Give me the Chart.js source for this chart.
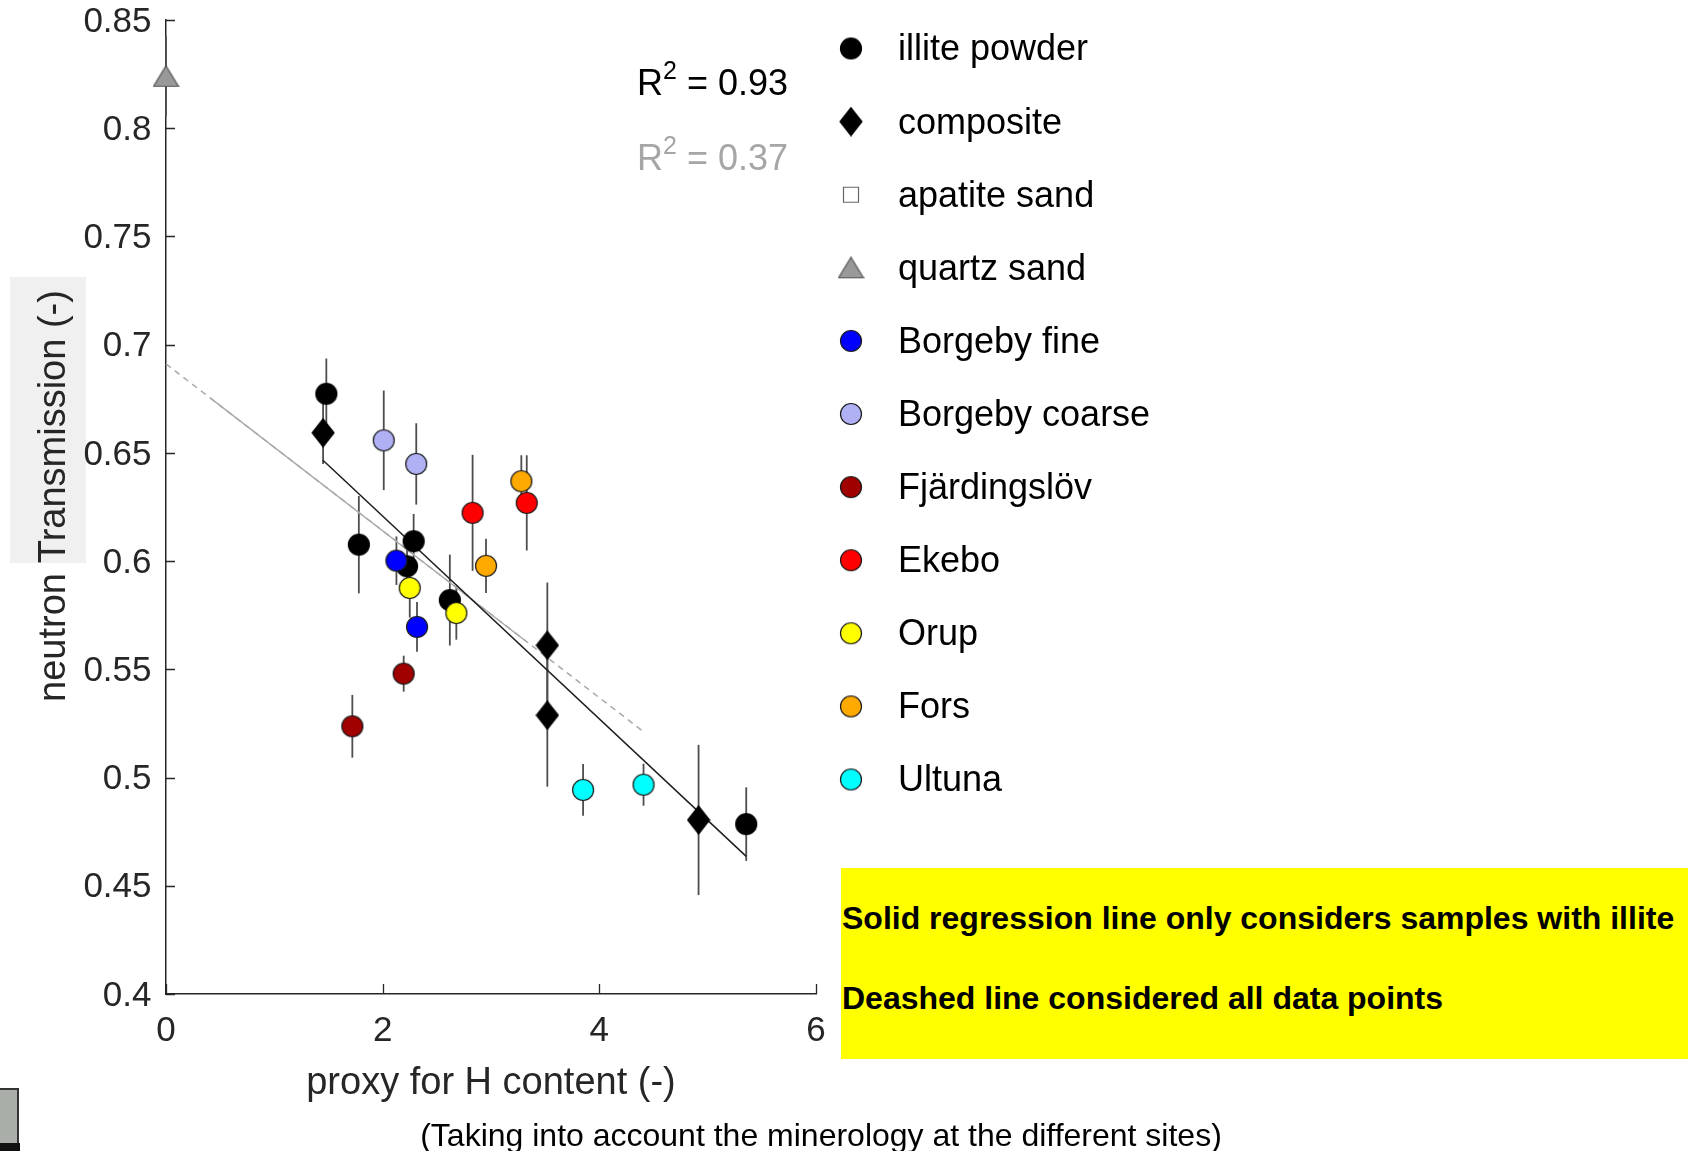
<!DOCTYPE html>
<html>
<head>
<meta charset="utf-8">
<title>neutron Transmission vs proxy for H content</title>
<script src="https://cdn.jsdelivr.net/npm/chart.js@4.4.1/dist/chart.umd.min.js"></script>
<style>
  html, body { margin: 0; padding: 0; background: #ffffff; }
  #wrap { position: relative; width: 1695px; height: 1151px; overflow: hidden;
          font-family: "Liberation Sans", Arial, Helvetica, sans-serif; }
  #chart { position: absolute; left: 0; top: 0; }
  .abs { position: absolute; white-space: nowrap; }
  #ylabBg { left: 10px; top: 277px; width: 76px; height: 286px; background: #f0f0f0; }
  #ylab { left: -168px; top: 473px; width: 440px; height: 46px; line-height: 46px;
          font-size: 38px; color: #262626; text-align: center; transform: rotate(-90deg); }
  .r2 { left: 637px; height: 40px; line-height: 40px; font-size: 36px; }
  .r2 sup { font-size: 25px; vertical-align: baseline; position: relative; top: -16px; }
  #note { left: 841px; top: 868px; width: 847px; height: 191px; background: #ffff00; }
  .noteLine { left: 842px; height: 36px; line-height: 36px; font-size: 32px; font-weight: bold; color: #000; }
  #sub { left: 321px; top: 1117px; width: 1000px; height: 36px; line-height: 36px;
         font-size: 32px; color: #000; text-align: center; }
  #corner { left: 0; top: 1088px; width: 17px; height: 55px; background: #a9aea9;
            border-top: 2px solid #333; border-right: 2px solid #333; }
  #cornerBase { left: 0; top: 1143px; width: 20px; height: 8px; background: #111; }
</style>
</head>
<body>
<div id="wrap">
  <div class="abs" id="ylabBg"></div>
  <canvas id="chart" width="1695" height="1151"></canvas>
  <div class="abs" id="ylab">neutron Transmission (-)</div>
  <div class="abs r2" id="r2a" style="top:63px;color:#000;"></div>
  <div class="abs r2" id="r2b" style="top:138px;color:#a6a6a6;"></div>
  <div class="abs" id="note"></div>
  <div class="abs noteLine" style="top:900px;">Solid regression line only considers samples with illite</div>
  <div class="abs noteLine" style="top:980px;">Deashed line considered all data points</div>
  <div class="abs" id="sub">(Taking into account the minerology at the different sites)</div>
  <div class="abs" id="corner"></div>
  <div class="abs" id="cornerBase"></div>
</div>

<script>
// ---------------- data ----------------
const seriesNames = ['illite powder', 'composite', 'apatite sand', 'quartz sand', 'Borgeby fine',
  'Borgeby coarse', 'Fjärdingslöv', 'Ekebo', 'Orup', 'Fors', 'Ultuna'];

const illitePowderX   = [1.48, 1.78, 2.286, 2.225, 2.62, 5.356];
const illitePowderY   = [0.6773, 0.6076, 0.6092, 0.5976, 0.582, 0.4785];
const illitePowderErr = [0.0163, 0.0225, 0.0126, 0.012, 0.021, 0.017];

const compositeX   = [1.45, 3.52, 3.52, 4.916];
const compositeY   = [0.6593, 0.5611, 0.5288, 0.4804];
const compositeErr = [0.0144, 0.029, 0.033, 0.0347];

const apatiteSandX   = [];
const apatiteSandY   = [];
const apatiteSandErr = [];

const quartzSandX   = [0];
const quartzSandY   = [0.824];
const quartzSandErr = [0.0185];

const borgebyFineX   = [2.127, 2.317];
const borgebyFineY   = [0.6002, 0.5696];
const borgebyFineErr = [0.0112, 0.0115];

const borgebyCoarseX   = [2.01, 2.31];
const borgebyCoarseY   = [0.6558, 0.6449];
const borgebyCoarseErr = [0.023, 0.0188];

const fjardingslovX   = [1.72, 2.194];
const fjardingslovY   = [0.5237, 0.548];
const fjardingslovErr = [0.0145, 0.0083];

const ekeboX   = [2.83, 3.33];
const ekeboY   = [0.6223, 0.6269];
const ekeboErr = [0.0268, 0.022];

const orupX   = [2.25, 2.68];
const orupY   = [0.5876, 0.576];
const orupErr = [0.0137, 0.0123];

const forsX   = [3.28, 2.954];
const forsY   = [0.6369, 0.5978];
const forsErr = [0.012, 0.0125];

const ultunaX   = [3.85, 4.408];
const ultunaY   = [0.4943, 0.4967];
const ultunaErr = [0.012, 0.0097];

// regression lines (end points)
const illiteFitX = [1.449, 5.356];
const illiteFitY = [0.6466, 0.4636];
const allFitX = [0, 4.405];
const allFitY = [0.6911, 0.5213];
const allFitSolidX = [0.41, 3.32];
const allFitSolidY = [0.6753, 0.5631];

const r2Values = ['0.93', '0.37'];

const xTicks = [0, 2, 4, 6];
const yTicks = [0.4, 0.45, 0.5, 0.55, 0.6, 0.65, 0.7, 0.75, 0.8, 0.85];

// ---------------- markers ----------------
function makeMarker(shape, fill, stroke) {
  const c = document.createElement('canvas');
  let w, h;
  if (shape === 'circle') { w = 24; h = 24; }
  else if (shape === 'diamond') { w = 24; h = 30; }
  else if (shape === 'triangle') { w = 27; h = 23; }
  else { w = 18; h = 18; }
  c.width = w; c.height = h;
  const g = c.getContext('2d');
  g.fillStyle = fill; g.strokeStyle = stroke; g.lineWidth = 1.2;
  g.beginPath();
  if (shape === 'circle') {
    g.arc(w / 2, h / 2, 10.5, 0, Math.PI * 2);
  } else if (shape === 'diamond') {
    g.moveTo(w / 2, 1); g.lineTo(w - 1, h / 2); g.lineTo(w / 2, h - 1); g.lineTo(1, h / 2); g.closePath();
  } else if (shape === 'triangle') {
    g.moveTo(w / 2, 1); g.lineTo(w - 1, h - 1.5); g.lineTo(1, h - 1.5); g.closePath();
  } else {
    g.rect(1.5, 1.5, w - 3, h - 3);
  }
  g.fill(); g.stroke();
  return c;
}

const markerStyles = [
  makeMarker('circle', '#000000', '#000000'),
  makeMarker('diamond', '#000000', '#000000'),
  makeMarker('square', '#ffffff', '#666666'),
  makeMarker('triangle', '#999999', '#555555'),
  makeMarker('circle', '#0000ff', '#1a1a1a'),
  makeMarker('circle', '#b0b0f5', '#1a1a1a'),
  makeMarker('circle', '#a00000', '#1a1a1a'),
  makeMarker('circle', '#ff0000', '#1a1a1a'),
  makeMarker('circle', '#ffff00', '#1a1a1a'),
  makeMarker('circle', '#ffaa00', '#1a1a1a'),
  makeMarker('circle', '#00ffff', '#1a1a1a')
];

const seriesX = [illitePowderX, compositeX, apatiteSandX, quartzSandX, borgebyFineX, borgebyCoarseX,
  fjardingslovX, ekeboX, orupX, forsX, ultunaX];
const seriesY = [illitePowderY, compositeY, apatiteSandY, quartzSandY, borgebyFineY, borgebyCoarseY,
  fjardingslovY, ekeboY, orupY, forsY, ultunaY];
const seriesErr = [illitePowderErr, compositeErr, apatiteSandErr, quartzSandErr, borgebyFineErr,
  borgebyCoarseErr, fjardingslovErr, ekeboErr, orupErr, forsErr, ultunaErr];
// later entries sit on top (lower order is drawn last)
const drawOrder = [50, 49, 48, 47, 46, 45, 44, 39, 42, 41, 40];

const pairs = (xs, ys) => xs.map((x, i) => ({ x: x, y: ys[i] }));

const pointDatasets = seriesNames.map((name, i) => ({
  label: name,
  data: pairs(seriesX[i], seriesY[i]),
  errors: seriesErr[i],
  pointStyle: markerStyles[i],
  pointRadius: 11,
  pointHoverRadius: 11,
  showLine: false,
  clip: false,
  order: drawOrder[i]
}));

const lineDatasets = [
  { label: 'fit all (dashed)', data: pairs(allFitX, allFitY), showLine: true, pointRadius: 0,
    borderColor: '#a8a8a8', borderWidth: 1.5, borderDash: [6, 5], clip: false, order: 100, isFit: true },
  { label: 'fit all (solid)', data: pairs(allFitSolidX, allFitSolidY), showLine: true, pointRadius: 0,
    borderColor: '#ababab', borderWidth: 1.5, clip: false, order: 99, isFit: true },
  { label: 'fit illite', data: pairs(illiteFitX, illiteFitY), showLine: true, pointRadius: 0,
    borderColor: '#1e1e1e', borderWidth: 1.5, clip: false, order: 98, isFit: true }
];

// ---------------- plugins ----------------
const errorBars = {
  id: 'errorBars',
  beforeDatasetsDraw(chart) {
    const { ctx, scales: { x, y } } = chart;
    ctx.save();
    ctx.strokeStyle = '#4d4d4d';
    ctx.lineWidth = 1.8;
    chart.data.datasets.forEach(ds => {
      if (!ds.errors) return;
      ds.data.forEach((p, i) => {
        const e = ds.errors[i];
        if (e == null) return;
        const px = x.getPixelForValue(p.x);
        ctx.beginPath();
        ctx.moveTo(px, y.getPixelForValue(p.y + e));
        ctx.lineTo(px, y.getPixelForValue(p.y - e));
        ctx.stroke();
      });
    });
    ctx.restore();
  }
};

const innerTicks = {
  id: 'innerTicks',
  afterDraw(chart) {
    const { ctx, chartArea, scales: { x, y } } = chart;
    ctx.save();
    ctx.strokeStyle = '#262626';
    ctx.lineWidth = 1.3;
    ctx.beginPath();
    x.ticks.forEach(t => {
      const px = Math.round(x.getPixelForValue(t.value)) + 0.5;
      ctx.moveTo(px, chartArea.bottom);
      ctx.lineTo(px, chartArea.bottom - 10);
    });
    y.ticks.forEach(t => {
      const py = Math.round(y.getPixelForValue(t.value)) + 0.5;
      ctx.moveTo(chartArea.left, py);
      ctx.lineTo(chartArea.left + 9, py);
    });
    ctx.stroke();
    ctx.restore();
  }
};

const sideLegend = {
  id: 'sideLegend',
  afterDraw(chart) {
    const { ctx } = chart;
    ctx.save();
    ctx.font = "36px 'Liberation Sans', Arial, sans-serif";
    ctx.fillStyle = '#000000';
    ctx.textBaseline = 'middle';
    ctx.textAlign = 'left';
    chart.data.datasets.forEach(ds => {
      if (ds.isFit) return;
      const i = seriesNames.indexOf(ds.label);
      const rowY = 48.5 + i * 73.1;
      const img = ds.pointStyle;
      ctx.drawImage(img, 851 - img.width / 2, rowY - img.height / 2);
      ctx.fillText(ds.label, 898, rowY + 2);
    });
    ctx.restore();
  }
};

// keep the plot box fixed, independent of label overflow
function fixBox(size, key) {
  return s => {
    s[key] = size;
    s.paddingTop = 0; s.paddingBottom = 0; s.paddingLeft = 0; s.paddingRight = 0;
  };
}

// ---------------- chart ----------------
Chart.defaults.font.family = "'Liberation Sans', Arial, Helvetica, sans-serif";

new Chart(document.getElementById('chart'), {
  type: 'scatter',
  data: { datasets: [...pointDatasets, ...lineDatasets] },
  options: {
    responsive: false,
    devicePixelRatio: 1,
    animation: false,
    events: [],
    layout: { padding: { left: 0, top: 20, right: 879, bottom: 0 } },
    plugins: { legend: { display: false }, tooltip: { enabled: false } },
    scales: {
      x: {
        type: 'linear',
        min: xTicks[0],
        max: xTicks[xTicks.length - 1],
        afterBuildTicks: s => { s.ticks = xTicks.map(v => ({ value: v })); },
        afterFit: fixBox(157, 'height'),
        grid: { display: true, drawOnChartArea: false, drawTicks: false },
        border: { display: true, color: '#262626', width: 1.5 },
        ticks: {
          padding: 16.3,
          color: '#262626',
          font: { size: 35, lineHeight: 1.2 },
          maxRotation: 0,
          callback: v => String(v)
        },
        title: {
          display: true,
          text: 'proxy for H content (-)',
          color: '#262626',
          font: { size: 38, lineHeight: 1.2 },
          padding: { top: 0, bottom: 45 }
        }
      },
      y: {
        type: 'linear',
        min: yTicks[0],
        max: yTicks[yTicks.length - 1],
        afterBuildTicks: s => { s.ticks = yTicks.map(v => ({ value: v })); },
        afterFit: fixBox(166, 'width'),
        grid: { display: true, drawOnChartArea: false, drawTicks: false },
        border: { display: true, color: '#262626', width: 1.5 },
        ticks: {
          padding: 14.5,
          labelOffset: 2,
          color: '#262626',
          font: { size: 35, lineHeight: 1.0 },
          callback: v => String(Math.round(v * 100) / 100)
        }
      }
    }
  },
  plugins: [errorBars, innerTicks, sideLegend]
});

// R-squared annotations
document.getElementById('r2a').innerHTML = 'R<sup>2</sup> = ' + r2Values[0];
document.getElementById('r2b').innerHTML = 'R<sup>2</sup> = ' + r2Values[1];
</script>
</body>
</html>
